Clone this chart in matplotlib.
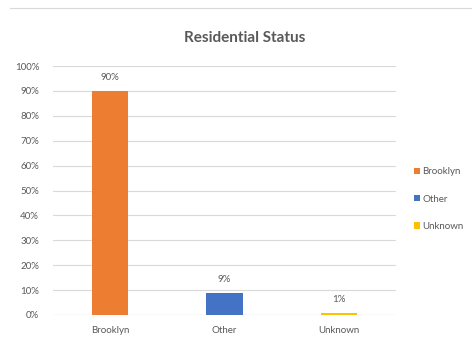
import matplotlib
matplotlib.use("Agg")
import matplotlib.pyplot as plt
from matplotlib.lines import Line2D
from matplotlib.patches import Patch

categories = ["Brooklyn", "Other", "Unknown"]
values = [0.90, 0.09, 0.01]
labels = ["90%", "9%", "1%"]
colors = ["#ED7D31", "#4472C4", "#FFC000"]
yticks = [i / 10 for i in range(11)]
yticklabels = [f"{i*10}%" for i in range(11)]

plt.rcParams['font.family'] = ['Lato', 'DejaVu Sans']

fig = plt.figure(figsize=(4.72, 3.40), dpi=100)
ax = fig.add_axes([53/472, 1 - 315/340, (396-53)/472, (315-66)/340])

x = list(range(len(categories)))
ax.bar(x, values, width=0.32, color=colors, zorder=3)
for xi, v, lab in zip(x, values, labels):
    ax.text(xi, v + 0.035, lab, ha="center", va="bottom", fontsize=7, color="#595959")

ax.set_xlim(-0.5, 2.5)
ax.set_ylim(0, 1.0)
ax.set_yticks(yticks)
ax.set_yticklabels(yticklabels)
ax.set_xticks(x)
ax.set_xticklabels(categories)
ax.tick_params(axis="both", length=0, labelsize=7, colors="#595959")
ax.tick_params(axis="y", pad=10)
ax.tick_params(axis="x", pad=8)
ax.yaxis.grid(True, color="#d9d9d9", linewidth=0.8, zorder=0)
ax.set_axisbelow(True)
for s in ax.spines.values():
    s.set_visible(False)
ax.axhline(0, color="#d9d9d9", linewidth=0.8, zorder=2)

fig.text(245/472, 1 - 38/340, "Residential Status", ha="center", va="center",
         fontsize=11, fontweight="bold", color="#595959")

fig.add_artist(Line2D([10/472, 1], [1 - 8/340, 1 - 8/340], color="#d9d9d9", linewidth=0.8))

handles = [Patch(facecolor=c) for c in colors]
fig.legend(handles, categories, loc="center left", bbox_to_anchor=(405/472, 1 - 199/340),
           frameon=False, fontsize=7, labelcolor="#595959", handlelength=0.6,
           handleheight=0.6, handletextpad=0.3, labelspacing=1.9)

fig.savefig("out.png", dpi=100)
